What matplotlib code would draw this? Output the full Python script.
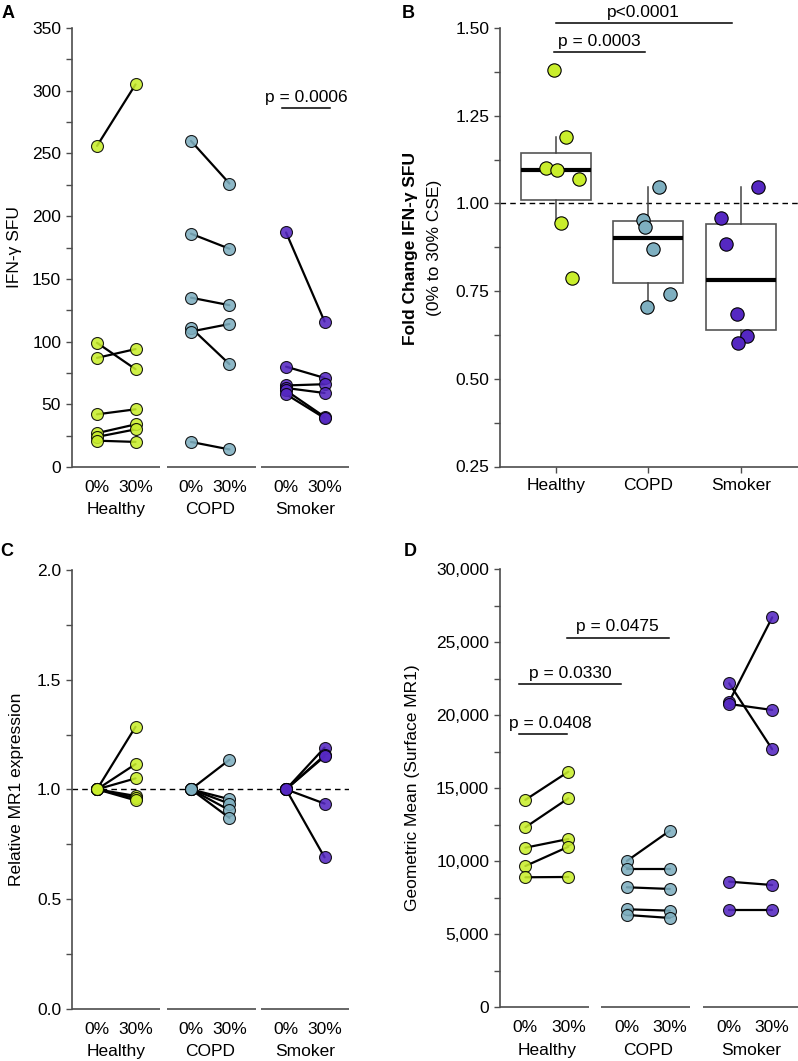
import matplotlib
matplotlib.use('Agg')
import matplotlib.pyplot as plt
from matplotlib.ticker import MultipleLocator, FuncFormatter, FormatStrFormatter
from matplotlib.transforms import blended_transform_factory, offset_copy

plt.rcParams['font.family'] = ['Liberation Sans', 'DejaVu Sans']
plt.rcParams['font.size'] = 12.5

# ---------------- data ----------------
groups = ['Healthy', 'COPD', 'Smoker']
conditions = ['0%', '30%']
group_colors = ['#c9ee2c', '#7eafc0', '#5528c2']

# Panel A: IFN-γ SFU (paired 0% -> 30%)
a_healthy_0 = [256, 99, 87, 42, 27, 24, 21]
a_healthy_30 = [305, 78, 94, 46, 34, 30, 20]
a_copd_0 = [260, 186, 135, 111, 108, 20]
a_copd_30 = [226, 174, 129, 82, 114, 14]
a_smoker_0 = [187, 80, 65, 63, 61, 58]
a_smoker_30 = [116, 71, 66, 59, 40, 39]

# Panel B: fold change
b_healthy = [1.379, 1.189, 1.100, 1.094, 1.070, 0.944, 0.788]
b_copd = [1.048, 0.953, 0.934, 0.869, 0.743, 0.704]
b_smoker = [1.048, 0.959, 0.885, 0.686, 0.622, 0.602]
b_jitter_healthy = [-0.015, 0.11, -0.104, 0.01, 0.25, 0.057, 0.178]
b_jitter_copd = [0.116, -0.062, -0.038, 0.052, 0.239, -0.013]
b_jitter_smoker = [0.18, -0.215, -0.165, -0.04, 0.061, -0.029]
b_q1 = [1.009, 0.774, 0.638]
b_median = [1.096, 0.902, 0.783]
b_q3 = [1.145, 0.950, 0.940]
b_whislo = [0.944, 0.704, 0.602]
b_whishi = [1.189, 1.046, 1.046]

# Panel C: relative MR1 expression
c_healthy_0 = [1.0, 1.0, 1.0, 1.0, 1.0, 1.0]
c_healthy_30 = [1.285, 1.115, 1.05, 0.97, 0.96, 0.95]
c_copd_0 = [1.0, 1.0, 1.0, 1.0, 1.0]
c_copd_30 = [1.135, 0.955, 0.935, 0.905, 0.87]
c_smoker_0 = [1.0, 1.0, 1.0, 1.0, 1.0]
c_smoker_30 = [1.19, 1.155, 1.15, 0.935, 0.69]

# Panel D: geometric mean surface MR1
d_healthy_0 = [14200, 12320, 10925, 9670, 8900]
d_healthy_30 = [16125, 14305, 11520, 10990, 8920]
d_copd_0 = [10015, 9490, 8215, 6710, 6320]
d_copd_30 = [12090, 9490, 8100, 6615, 6115]
d_smoker_0 = [22175, 20920, 20760, 8600, 6660]
d_smoker_30 = [17660, 26690, 20350, 8370, 6660]

# significance annotations: (x1, x2, y, text_x, label)
a_sig = [(4.81, 6.05, 286, 5.43, 'p = 0.0006')]
b_sig = [(-0.015, 0.964, 1.4316, 0.475, 'p = 0.0003'),
         (0.003, 1.906, 1.513, 0.945, 'p<0.0001')]
d_sig = [(-0.14, 0.963, 18700, 0.58, 'p = 0.0408'),
         (-0.14, 2.226, 22130, 1.04, 'p = 0.0330'),
         (0.963, 3.335, 25300, 2.13, 'p = 0.0475')]

# ---------------- style ----------------
SPINE = '#4d4d4d'
W, H = 798, 1061
fig = plt.figure(figsize=(W / 100, H / 100), dpi=100)


def px_axes(l, t, r, b):
    return fig.add_axes([l / W, 1 - b / H, (r - l) / W, (b - t) / H])


def style_y(ax, major, minor, fmt=None):
    for s in ['top', 'right']:
        ax.spines[s].set_visible(False)
    ax.spines['left'].set_color(SPINE)
    ax.spines['left'].set_linewidth(1.2)
    ax.yaxis.set_major_locator(MultipleLocator(major))
    ax.yaxis.set_minor_locator(MultipleLocator(minor))
    ax.tick_params(axis='y', which='both', length=4.3, width=1.0, color=SPINE,
                   direction='out', pad=3.5, labelsize=12.5)
    if fmt is not None:
        ax.yaxis.set_major_formatter(fmt)


def paired_panel(ax, data, offsets, xlim, segs, ms=8.6):
    ax.spines['bottom'].set_visible(False)
    ax.set_xlim(*xlim)
    tr = blended_transform_factory(ax.transData, ax.transAxes)
    for x1, x2 in segs:
        ax.plot([x1, x2], [0, 0], transform=tr, color=SPINE, lw=1.2,
                clip_on=False, solid_capstyle='butt', zorder=5)
    ticks, labels = [], []
    for gi, (v0, v30) in enumerate(data):
        x0 = offsets[gi]
        for a, b in zip(v0, v30):
            ax.plot([x0, x0 + 1], [a, b], color='black', lw=1.6, zorder=2,
                    solid_capstyle='round')
        ax.plot([x0] * len(v0), v0, 'o', ms=ms, mfc=group_colors[gi],
                mec='black', mew=0.8, alpha=0.88, zorder=3, linestyle='none')
        ax.plot([x0 + 1] * len(v30), v30, 'o', ms=ms, mfc=group_colors[gi],
                mec='black', mew=0.8, alpha=0.88, zorder=3, linestyle='none')
        ticks += [x0, x0 + 1]
        labels += conditions
        ax.annotate(groups[gi], xy=(x0 + 0.5, 0), xycoords=tr,
                    xytext=(0, -25.5), textcoords='offset points',
                    ha='center', va='top', fontsize=12.5, annotation_clip=False)
    ax.set_xticks(ticks)
    ax.set_xticklabels(labels)
    ax.tick_params(axis='x', length=0, pad=9.5, labelsize=12.5)


def sig(ax, specs, off_pts=2.5):
    for x1, x2, y, tx, lab in specs:
        ax.plot([x1, x2], [y, y], color='black', lw=1.1, clip_on=False, zorder=4)
        t = offset_copy(ax.transData, fig=fig, x=0, y=off_pts, units='points')
        ax.text(tx, y, lab, transform=t, ha='center', va='bottom',
                fontsize=12.5, clip_on=False)


# ---------------- Panel A ----------------
axA = px_axes(72, 28, 349, 467)
style_y(axA, 50, 25)
axA.set_ylim(0, 350)
paired_panel(axA,
             [(a_healthy_0, a_healthy_30), (a_copd_0, a_copd_30),
              (a_smoker_0, a_smoker_30)],
             [0, 2.44, 4.91], (-0.65, 6.545),
             [(-0.65, 1.636), (1.818, 4.13), (4.26, 6.545)])
sig(axA, a_sig)

# ---------------- Panel B ----------------
axB = px_axes(500, 28, 798, 466.5)
style_y(axB, 0.25, 0.125, FormatStrFormatter('%.2f'))
axB.set_ylim(0.25, 1.5)
axB.set_xlim(-0.601, 2.615)
axB.spines['bottom'].set_color(SPINE)
axB.spines['bottom'].set_linewidth(1.2)
axB.axhline(1.0, color='black', lw=1.0, ls=(0, (4, 3)), zorder=1)
stats = []
for i in range(3):
    stats.append(dict(q1=b_q1[i], med=b_median[i], q3=b_q3[i],
                      whislo=b_whislo[i], whishi=b_whishi[i], fliers=[]))
axB.bxp(stats, positions=[0, 1, 2], widths=0.755, showcaps=False,
        showfliers=False, patch_artist=True,
        boxprops=dict(facecolor='white', edgecolor='#555555', linewidth=1.2),
        medianprops=dict(color='black', linewidth=3.0, solid_capstyle='butt'),
        whiskerprops=dict(color='#444444', linewidth=1.1), zorder=2)
for gi, (vals, jit) in enumerate([(b_healthy, b_jitter_healthy),
                                  (b_copd, b_jitter_copd),
                                  (b_smoker, b_jitter_smoker)]):
    xs = [gi + j for j in jit]
    axB.plot(xs, vals, 'o', ms=9.6, mfc=group_colors[gi], mec='black',
             mew=0.8, zorder=4, linestyle='none')
axB.set_xticks([0, 1, 2])
axB.set_xticklabels(groups)
axB.tick_params(axis='x', length=4.3, width=1.0, color=SPINE, pad=4, labelsize=12.5)
sig(axB, b_sig)

# ---------------- Panel C ----------------
axC = px_axes(72, 570, 349, 1008.7)
style_y(axC, 0.5, 0.25, FormatStrFormatter('%.1f'))
axC.set_ylim(0, 2.0)
axC.axhline(1.0, color='black', lw=1.0, ls=(0, (4, 3)), zorder=1)
paired_panel(axC,
             [(c_healthy_0, c_healthy_30), (c_copd_0, c_copd_30),
              (c_smoker_0, c_smoker_30)],
             [0, 2.44, 4.91], (-0.65, 6.545),
             [(-0.65, 1.636), (1.818, 4.13), (4.26, 6.545)])

# ---------------- Panel D ----------------
axD = px_axes(500, 569, 798, 1007.3)
style_y(axD, 5000, 2500, FuncFormatter(lambda v, p: f'{int(v):,}'))
axD.set_ylim(0, 30000)
paired_panel(axD,
             [(d_healthy_0, d_healthy_30), (d_copd_0, d_copd_30),
              (d_smoker_0, d_smoker_30)],
             [0, 2.36, 4.74], (-0.59, 6.34),
             [(-0.59, 1.49), (1.77, 3.83), (4.13, 6.34)])
sig(axD, d_sig)

# ---------------- labels ----------------
fig.text(15 / W, 1 - 247 / H, 'IFN-γ SFU', rotation=90, ha='center', va='center', fontsize=12.5)
fig.text(410 / W, 1 - 248 / H, 'Fold Change IFN-γ SFU', rotation=90, ha='center',
         va='center', fontsize=12.5, fontweight='bold')
fig.text(435 / W, 1 - 248 / H, '(0% to 30% CSE)', rotation=90, ha='center',
         va='center', fontsize=12.5)
fig.text(17 / W, 1 - 789 / H, 'Relative MR1 expression', rotation=90, ha='center',
         va='center', fontsize=12.5)
fig.text(412 / W, 1 - 788 / H, 'Geometric Mean (Surface MR1)', rotation=90,
         ha='center', va='center', fontsize=12.5)

for lab, x, y in [('A', 8, 14), ('B', 408, 14), ('C', 7, 552), ('D', 410, 552)]:
    fig.text(x / W, 1 - y / H, lab, ha='center', va='center', fontsize=13,
             fontweight='bold')

fig.savefig('out.png', dpi=100)
